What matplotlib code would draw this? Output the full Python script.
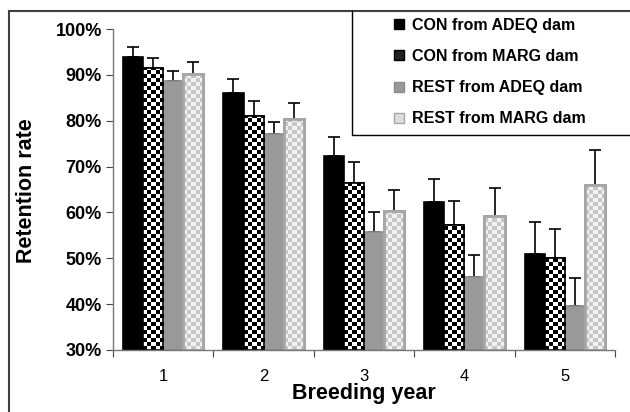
import numpy as np
import matplotlib
matplotlib.use('Agg')
import matplotlib.pyplot as plt
from matplotlib.lines import Line2D

plt.rcParams['font.family'] = ['Liberation Sans', 'DejaVu Sans']

years = ['1', '2', '3', '4', '5']
names = ['CON from ADEQ dam', 'CON from MARG dam', 'REST from ADEQ dam', 'REST from MARG dam']

con_adeq = [94.0, 86.0, 72.2, 62.2, 51.0]
con_marg = [91.4, 81.0, 66.4, 57.3, 50.0]
rest_adeq = [88.7, 77.0, 55.8, 45.9, 39.5]
rest_marg = [90.1, 80.4, 60.3, 59.3, 66.0]

con_adeq_err = [2.1, 3.1, 4.3, 5.1, 7.0]
con_marg_err = [2.2, 3.4, 4.7, 5.2, 6.4]
rest_adeq_err = [2.1, 2.8, 4.3, 4.9, 6.3]
rest_marg_err = [2.6, 3.4, 4.6, 6.1, 7.6]


def checker(ax, bars, c1, c2, cell_y=0.87):
	# fill each bar with a checkerboard, clipped to the bar outline
	for b in bars:
		x0, y0 = b.get_x(), b.get_y()
		w, h = b.get_width(), b.get_height()
		nx = 5
		ny = int(np.ceil(h / cell_y))
		img = (np.indices((ny, nx)).sum(axis=0) % 2)
		cmap = matplotlib.colors.ListedColormap([c1, c2])
		im = ax.imshow(img, cmap=cmap, extent=(x0, x0 + w, y0, y0 + ny * cell_y),
			origin='lower', interpolation='nearest', aspect='auto', zorder=1.5)
		im.set_clip_path(b)


fig = plt.figure(figsize=(6.3, 4.12), dpi=100)
ax = fig.add_axes([113/630, 1 - 350/412, 502/630, 321/412])

x = np.arange(1, 6)
w = 0.2
series = [con_adeq, con_marg, rest_adeq, rest_marg]
errs = [con_adeq_err, con_marg_err, rest_adeq_err, rest_marg_err]
faces = ['black', 'white', '#999999', 'white']
edges = ['black', 'black', '#8c8c8c', '#a6a6a6']
lws = [1.2, 1.2, 1.2, 2.0]

allbars = []
for i, (vals, err) in enumerate(zip(series, errs)):
	pos = x + (i - 1.5) * w
	bars = ax.bar(pos, np.array(vals) - 30, w, bottom=30, color=faces[i],
		edgecolor=edges[i], linewidth=lws[i], zorder=1)
	allbars.append(bars)
	ax.errorbar(pos, vals, yerr=[np.zeros(5), err], fmt='none', ecolor='black',
		elinewidth=1.2, capsize=4, capthick=1.2, zorder=0.5)

checker(ax, allbars[1], 'black', 'white')
checker(ax, allbars[3], '#c6c6c6', '#f2f2f2')
# redraw outlines over the checkers
for k in (1, 3):
	for b in allbars[k]:
		ax.add_patch(plt.Rectangle((b.get_x(), b.get_y()), b.get_width(), b.get_height(),
			fill=False, edgecolor=edges[k], linewidth=lws[k], zorder=2))

ax.set_xlim(0.5, 5.5)
ax.set_ylim(30, 100)
ax.set_yticks(range(30, 101, 10))
ax.set_yticklabels(['%d%%' % v for v in range(30, 101, 10)], fontsize=13, fontweight='bold')
ax.set_xticks(np.arange(0.5, 6, 1))
ax.set_xticklabels([])
ax.set_xticks(x, minor=True)
ax.set_xticklabels(years, minor=True, fontsize=12)
ax.tick_params(axis='x', which='minor', length=0, pad=14)
ax.tick_params(axis='x', which='major', length=5, direction='out', color='#444444')
ax.tick_params(axis='y', length=5, direction='out', color='#444444', pad=3)
for s in ('top', 'right'):
	ax.spines[s].set_visible(False)
for s in ('left', 'bottom'):
	ax.spines[s].set_color('#777777')
	ax.spines[s].set_linewidth(1.0)

fig.text(27/630, 1 - 191/412, 'Retention rate', rotation=90, ha='center', va='center',
	fontsize=15.5, fontweight='bold')
fig.text(364/630, 1 - 394/412, 'Breeding year', ha='center', va='center',
	fontsize=15.5, fontweight='bold')

# outer chart border (left and top visible)
fig.add_artist(Line2D([9/630, 9/630], [0, 1 - 11/412], color='#404040', lw=1.5))
fig.add_artist(Line2D([9/630, 1], [1 - 11/412, 1 - 11/412], color='#404040', lw=1.5))

# legend box
fig.add_artist(Line2D([352/630, 352/630, 1], [1 - 11/412, 1 - 135/412, 1 - 135/412],
	color='black', lw=1.0))

handles = [
	Line2D([], [], marker='s', ls='none', ms=7, mfc='black', mec='black'),
	Line2D([], [], marker='s', ls='none', ms=7, mfc='#222222', mec='black'),
	Line2D([], [], marker='s', ls='none', ms=7, mfc='#999999', mec='#8c8c8c'),
	Line2D([], [], marker='s', ls='none', ms=7, mfc='#dddddd', mec='#a6a6a6'),
]
leg = fig.legend(handles, names, loc='center', bbox_to_anchor=(490/630, 1 - 72/412),
	frameon=False, prop={'weight': 'bold', 'size': 11.5}, handlelength=0.6,
	handletextpad=0.5, labelspacing=1.02)

fig.savefig('out.png', dpi=100)
